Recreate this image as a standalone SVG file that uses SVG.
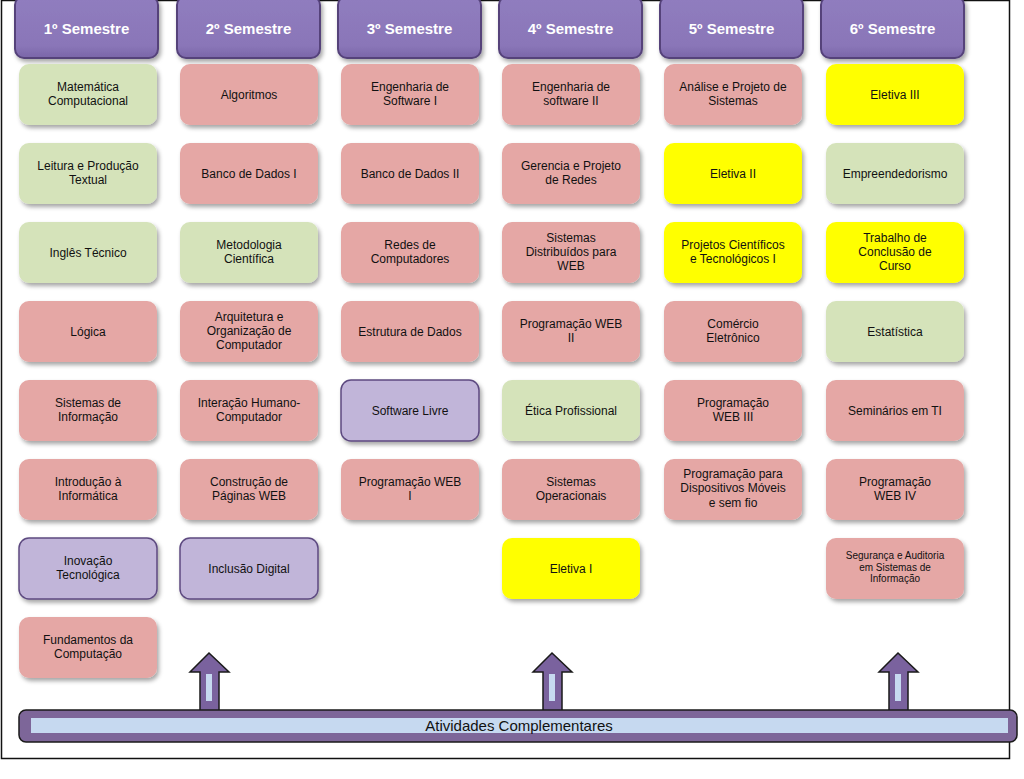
<svg xmlns="http://www.w3.org/2000/svg" width="1024" height="779" viewBox="0 0 1024 779">
<defs>
<filter id="sh" x="-10%" y="-10%" width="130%" height="140%">
<feDropShadow dx="2" dy="3" stdDeviation="2" flood-color="#000" flood-opacity="0.35"/>
</filter>
<linearGradient id="hg" x1="0" y1="0" x2="0" y2="1">
<stop offset="0" stop-color="#907dbf"/>
<stop offset="0.8" stop-color="#8a76b8"/>
<stop offset="1" stop-color="#7a66a8"/>
</linearGradient>
<style>
.hd{fill:url(#hg);stroke:#54427a;stroke-width:2}
.ht{font-family:"Liberation Sans",Arial,sans-serif;font-size:15px;font-weight:bold;fill:#ffffff;text-anchor:middle}
.g{fill:#d5e3ba}
.p{fill:#e5a7a5}
.v{fill:#c1b5d9;stroke:#5d4a80;stroke-width:1.5}
.y{fill:#ffff00}
.t{font-family:"Liberation Sans",Arial,sans-serif;font-size:12px;fill:#111;text-anchor:middle}
.ts{font-family:"Liberation Sans",Arial,sans-serif;font-size:10px;fill:#111;text-anchor:middle}
.ar{fill:#7a629e;stroke:#1a1a1a;stroke-width:1.5}
.in{fill:#c6d9f0}
</style>
</defs>
<rect x="0" y="0" width="1024" height="779" fill="#ffffff"/>
<rect x="1.5" y="0.5" width="1008" height="758" fill="none" stroke="#111" stroke-width="1.5"/>

<g id="headers">
<g id="h1"><rect class="hd" x="15" y="-4" width="143" height="62" rx="9" filter="url(#sh)"/><text class="ht" x="86.5" y="34">1º Semestre</text></g>
<g id="h2"><rect class="hd" x="177" y="-4" width="143" height="62" rx="9" filter="url(#sh)"/><text class="ht" x="248.5" y="34">2º Semestre</text></g>
<g id="h3"><rect class="hd" x="338" y="-4" width="143" height="62" rx="9" filter="url(#sh)"/><text class="ht" x="409.5" y="34">3º Semestre</text></g>
<g id="h4"><rect class="hd" x="499" y="-4" width="143" height="62" rx="9" filter="url(#sh)"/><text class="ht" x="570.5" y="34">4º Semestre</text></g>
<g id="h5"><rect class="hd" x="660" y="-4" width="143" height="62" rx="9" filter="url(#sh)"/><text class="ht" x="731.5" y="34">5º Semestre</text></g>
<g id="h6"><rect class="hd" x="821" y="-4" width="143" height="62" rx="9" filter="url(#sh)"/><text class="ht" x="892.5" y="34">6º Semestre</text></g>
</g>

<!-- Column 1 -->
<g id="c1r0"><rect class="g" x="19" y="64" width="138" height="61" rx="10" filter="url(#sh)"/><text class="t" x="88" y="91">Matemática</text><text class="t" x="88" y="105">Computacional</text></g>
<g id="c1r1"><rect class="g" x="19" y="143" width="138" height="61" rx="10" filter="url(#sh)"/><text class="t" x="88" y="170">Leitura e Produção</text><text class="t" x="88" y="184">Textual</text></g>
<g id="c1r2"><rect class="g" x="19" y="222" width="138" height="61" rx="10" filter="url(#sh)"/><text class="t" x="88" y="257">Inglês Técnico</text></g>
<g id="c1r3"><rect class="p" x="19" y="301" width="138" height="61" rx="10" filter="url(#sh)"/><text class="t" x="88" y="336">Lógica</text></g>
<g id="c1r4"><rect class="p" x="19" y="380" width="138" height="61" rx="10" filter="url(#sh)"/><text class="t" x="88" y="407">Sistemas de</text><text class="t" x="88" y="421">Informação</text></g>
<g id="c1r5"><rect class="p" x="19" y="459" width="138" height="61" rx="10" filter="url(#sh)"/><text class="t" x="88" y="486">Introdução à</text><text class="t" x="88" y="500">Informática</text></g>
<g id="c1r6"><rect class="v" x="19" y="538" width="138" height="61" rx="10" filter="url(#sh)"/><text class="t" x="88" y="565">Inovação</text><text class="t" x="88" y="579">Tecnológica</text></g>
<g id="c1r7"><rect class="p" x="19" y="617" width="138" height="61" rx="10" filter="url(#sh)"/><text class="t" x="88" y="644">Fundamentos da</text><text class="t" x="88" y="658">Computação</text></g>

<!-- Column 2 -->
<g id="c2r0"><rect class="p" x="180" y="64" width="138" height="61" rx="10" filter="url(#sh)"/><text class="t" x="249" y="99">Algoritmos</text></g>
<g id="c2r1"><rect class="p" x="180" y="143" width="138" height="61" rx="10" filter="url(#sh)"/><text class="t" x="249" y="178">Banco de Dados I</text></g>
<g id="c2r2"><rect class="g" x="180" y="222" width="138" height="61" rx="10" filter="url(#sh)"/><text class="t" x="249" y="249">Metodologia</text><text class="t" x="249" y="263">Científica</text></g>
<g id="c2r3"><rect class="p" x="180" y="301" width="138" height="61" rx="10" filter="url(#sh)"/><text class="t" x="249" y="321">Arquitetura e</text><text class="t" x="249" y="335">Organização de</text><text class="t" x="249" y="349">Computador</text></g>
<g id="c2r4"><rect class="p" x="180" y="380" width="138" height="61" rx="10" filter="url(#sh)"/><text class="t" x="249" y="407">Interação Humano-</text><text class="t" x="249" y="421">Computador</text></g>
<g id="c2r5"><rect class="p" x="180" y="459" width="138" height="61" rx="10" filter="url(#sh)"/><text class="t" x="249" y="486">Construção de</text><text class="t" x="249" y="500">Páginas WEB</text></g>
<g id="c2r6"><rect class="v" x="180" y="538" width="138" height="61" rx="10" filter="url(#sh)"/><text class="t" x="249" y="573">Inclusão Digital</text></g>

<!-- Column 3 -->
<g id="c3r0"><rect class="p" x="341" y="64" width="138" height="61" rx="10" filter="url(#sh)"/><text class="t" x="410" y="91">Engenharia de</text><text class="t" x="410" y="105">Software I</text></g>
<g id="c3r1"><rect class="p" x="341" y="143" width="138" height="61" rx="10" filter="url(#sh)"/><text class="t" x="410" y="178">Banco de Dados II</text></g>
<g id="c3r2"><rect class="p" x="341" y="222" width="138" height="61" rx="10" filter="url(#sh)"/><text class="t" x="410" y="249">Redes de</text><text class="t" x="410" y="263">Computadores</text></g>
<g id="c3r3"><rect class="p" x="341" y="301" width="138" height="61" rx="10" filter="url(#sh)"/><text class="t" x="410" y="336">Estrutura de Dados</text></g>
<g id="c3r4"><rect class="v" x="341" y="380" width="138" height="61" rx="10" filter="url(#sh)"/><text class="t" x="410" y="415">Software Livre</text></g>
<g id="c3r5"><rect class="p" x="341" y="459" width="138" height="61" rx="10" filter="url(#sh)"/><text class="t" x="410" y="486">Programação WEB</text><text class="t" x="410" y="500">I</text></g>

<!-- Column 4 -->
<g id="c4r0"><rect class="p" x="502" y="64" width="138" height="61" rx="10" filter="url(#sh)"/><text class="t" x="571" y="91">Engenharia de</text><text class="t" x="571" y="105">software II</text></g>
<g id="c4r1"><rect class="p" x="502" y="143" width="138" height="61" rx="10" filter="url(#sh)"/><text class="t" x="571" y="170">Gerencia e Projeto</text><text class="t" x="571" y="184">de Redes</text></g>
<g id="c4r2"><rect class="p" x="502" y="222" width="138" height="61" rx="10" filter="url(#sh)"/><text class="t" x="571" y="242">Sistemas</text><text class="t" x="571" y="256">Distribuídos para</text><text class="t" x="571" y="270">WEB</text></g>
<g id="c4r3"><rect class="p" x="502" y="301" width="138" height="61" rx="10" filter="url(#sh)"/><text class="t" x="571" y="328">Programação WEB</text><text class="t" x="571" y="342">II</text></g>
<g id="c4r4"><rect class="g" x="502" y="380" width="138" height="61" rx="10" filter="url(#sh)"/><text class="t" x="571" y="415">Ética Profissional</text></g>
<g id="c4r5"><rect class="p" x="502" y="459" width="138" height="61" rx="10" filter="url(#sh)"/><text class="t" x="571" y="486">Sistemas</text><text class="t" x="571" y="500">Operacionais</text></g>
<g id="c4r6"><rect class="y" x="502" y="538" width="138" height="61" rx="10" filter="url(#sh)"/><text class="t" x="571" y="573">Eletiva I</text></g>

<!-- Column 5 -->
<g id="c5r0"><rect class="p" x="664" y="64" width="138" height="61" rx="10" filter="url(#sh)"/><text class="t" x="733" y="91">Análise e Projeto de</text><text class="t" x="733" y="105">Sistemas</text></g>
<g id="c5r1"><rect class="y" x="664" y="143" width="138" height="61" rx="10" filter="url(#sh)"/><text class="t" x="733" y="178">Eletiva II</text></g>
<g id="c5r2"><rect class="y" x="664" y="222" width="138" height="61" rx="10" filter="url(#sh)"/><text class="t" x="733" y="249">Projetos Científicos</text><text class="t" x="733" y="263">e Tecnológicos I</text></g>
<g id="c5r3"><rect class="p" x="664" y="301" width="138" height="61" rx="10" filter="url(#sh)"/><text class="t" x="733" y="328">Comércio</text><text class="t" x="733" y="342">Eletrônico</text></g>
<g id="c5r4"><rect class="p" x="664" y="380" width="138" height="61" rx="10" filter="url(#sh)"/><text class="t" x="733" y="407">Programação</text><text class="t" x="733" y="421">WEB III</text></g>
<g id="c5r5"><rect class="p" x="664" y="459" width="138" height="61" rx="10" filter="url(#sh)"/><text class="t" x="733" y="478">Programação para</text><text class="t" x="733" y="492">Dispositivos Móveis</text><text class="t" x="733" y="507">e sem fio</text></g>

<!-- Column 6 -->
<g id="c6r0"><rect class="y" x="826" y="64" width="138" height="61" rx="10" filter="url(#sh)"/><text class="t" x="895" y="99">Eletiva III</text></g>
<g id="c6r1"><rect class="g" x="826" y="143" width="138" height="61" rx="10" filter="url(#sh)"/><text class="t" x="895" y="178">Empreendedorismo</text></g>
<g id="c6r2"><rect class="y" x="826" y="222" width="138" height="61" rx="10" filter="url(#sh)"/><text class="t" x="895" y="242">Trabalho de</text><text class="t" x="895" y="256">Conclusão de</text><text class="t" x="895" y="270">Curso</text></g>
<g id="c6r3"><rect class="g" x="826" y="301" width="138" height="61" rx="10" filter="url(#sh)"/><text class="t" x="895" y="336">Estatística</text></g>
<g id="c6r4"><rect class="p" x="826" y="380" width="138" height="61" rx="10" filter="url(#sh)"/><text class="t" x="895" y="415">Seminários em TI</text></g>
<g id="c6r5"><rect class="p" x="826" y="459" width="138" height="61" rx="10" filter="url(#sh)"/><text class="t" x="895" y="486">Programação</text><text class="t" x="895" y="500">WEB IV</text></g>
<g id="c6r6"><rect class="p" x="826" y="538" width="138" height="61" rx="10" filter="url(#sh)"/><text class="ts" x="895" y="559">Segurança e Auditoria</text><text class="ts" x="895" y="571">em Sistemas de</text><text class="ts" x="895" y="582">Informação</text></g>

<g id="connectors">
<g id="a1"><path class="ar" d="M209,653 L229,672 L219,672 L219,711 L200,711 L200,672 L190,672 Z"/><rect class="in" x="206" y="674" width="6" height="27"/></g>
<g id="a2"><path class="ar" d="M552,653 L572,672 L562,672 L562,711 L543,711 L543,672 L533,672 Z"/><rect class="in" x="549" y="674" width="6" height="27"/></g>
<g id="a3"><path class="ar" d="M898,653 L918,672 L908,672 L908,711 L889,711 L889,672 L879,672 Z"/><rect class="in" x="895" y="674" width="6" height="27"/></g>
</g>

<g id="bar">
<rect x="19" y="710" width="998" height="32" rx="7" fill="#7d6699" stroke="#1a1a1a" stroke-width="1.5"/>
<rect class="in" x="31" y="718" width="977" height="15"/>
<text x="519" y="731" font-family="'Liberation Sans',Arial,sans-serif" font-size="15" fill="#111" text-anchor="middle">Atividades Complementares</text>
</g>
</svg>
